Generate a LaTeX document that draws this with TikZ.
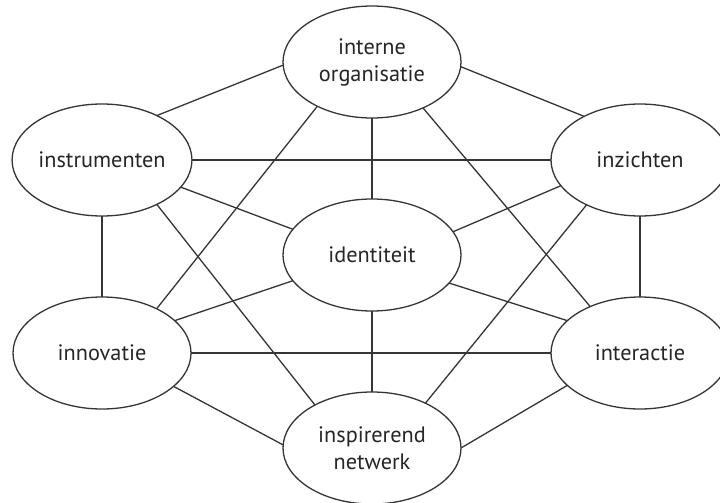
\documentclass[tikz,border=0pt]{standalone}
\usepackage{fontspec}
\setmainfont{PT Sans}
\usetikzlibrary{shapes.geometric}
\definecolor{inkc}{HTML}{353535}
\definecolor{txtc}{HTML}{262626}
\tikzset{
  bub/.style={ellipse, draw=inkc, line width=1.3pt, minimum width=178pt, minimum height=112pt,
    inner sep=0pt, outer sep=0pt, align=center, text=txtc,
    font=\fontsize{22.3}{27}\selectfont},
  link/.style={draw=inkc, line width=1.3pt}
}
\begin{document}
\begin{tikzpicture}[x=1pt,y=1pt]
\useasboundingbox (0,0) rectangle (720,-503);
\fill[white] (0,0) rectangle (720,-503);
\node[bub] (A) at (372,-62) {interne\\organisatie};
\node[bub] (B) at (102,-160) {instrumenten};
\node[bub] (C) at (640,-160) {inzichten};
\node[bub] (D) at (372,-255) {identiteit};
\node[bub] (E) at (102,-353) {innovatie};
\node[bub] (F) at (640,-353) {interactie};
\node[bub] (G) at (372,-448) {inspirerend\\netwerk};
\draw[link] (A.182.5) -- (B.39.9);
\draw[link] (A.357.4) -- (C.142.8);
\draw[link] (A.270) -- (D.90);
\draw[link] (A.219.7) -- (E.39.3);
\draw[link] (A.318.2) -- (F.137.9);
\draw[link] (B.0) -- (C.180);
\draw[link] (B.341.5) -- (D.162.7);
\draw[link] (B.270) -- (E.90);
\draw[link] (B.321.3) -- (G.143.8);
\draw[link] (C.198.2) -- (D.16.9);
\draw[link] (C.270) -- (F.90);
\draw[link] (C.220.7) -- (G.40.2);
\draw[link] (D.198.9) -- (E.24.3);
\draw[link] (D.340.7) -- (F.156.3);
\draw[link] (D.270) -- (G.90);
\draw[link] (E.0) -- (F.180);
\draw[link] (E.335) -- (G.178.7);
\draw[link] (F.204.4) -- (G.0.6);
\end{tikzpicture}
\end{document}
